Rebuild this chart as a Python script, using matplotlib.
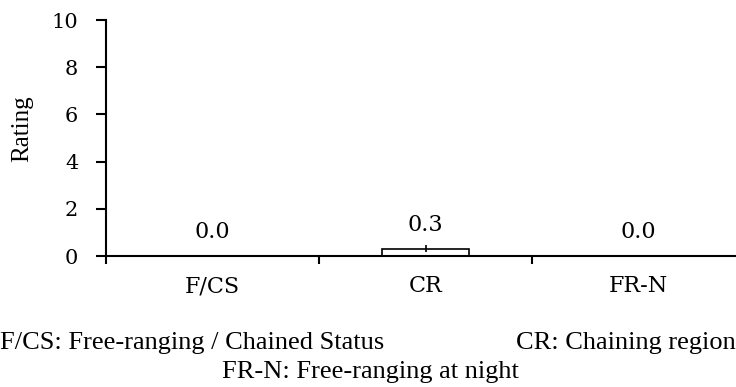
import matplotlib.pyplot as plt
import numpy as np

categorias = ["F/CS", "CR", "FR-N"]
valores = [0.0, 0.3, 0.0]
errores = [0.0, 0.15, 0.0]
notas1 = "F/CS: Free-ranging / Chained Status"
notas2 = "CR: Chaining region"
notas3 = "FR-N: Free-ranging at night"

W, H = 736, 387
fig = plt.figure(figsize=(W / 100, H / 100), dpi=100)
# axes a mano en pixeles
ax = fig.add_axes([106 / W, 131 / H, (745 - 106) / W, (367 - 131) / H])

x = np.arange(len(categorias))
ax.bar(x, valores, 0.41, color="white", edgecolor="black", linewidth=1.2)
ax.errorbar(x[1:2], valores[1:2], yerr=errores[1:2], fmt="none", ecolor="black",
            elinewidth=1.2, capsize=0)

tick_font = {"family": "DejaVu Serif", "size": 16}
for xi, v in zip(x, valores):
    ax.annotate("%.1f" % v, (xi, v), xytext=(0, 9), textcoords="offset points",
                ha="center", va="bottom", **tick_font)

ax.set_xlim(-0.5, 2.5)
ax.set_ylim(0, 10)
ax.set_yticks([0, 2, 4, 6, 8, 10])
ax.set_xticks(x)
ax.set_xticklabels(categorias, fontdict=tick_font)
ax.set_xticks([-0.5, 0.5, 1.5, 2.5], minor=True)
ax.tick_params(axis="x", which="major", length=0, pad=14)
ax.tick_params(axis="x", which="minor", length=6, width=1.5, direction="out")
ax.tick_params(axis="y", length=7, width=1.5, direction="out", pad=13,
               labelsize=15, labelfontfamily="DejaVu Serif")

ax.spines["top"].set_visible(False)
ax.spines["right"].set_visible(False)
ax.spines["left"].set_linewidth(1.5)
ax.spines["bottom"].set_linewidth(1.5)
ax.set_ylabel("Rating", family="Liberation Serif", fontsize=18)
ax.yaxis.set_label_coords(-0.114, 0.54)

fig.text(0 / W, 1 - 343 / H, notas1, family="Liberation Serif", fontsize=19,
         ha="left", va="center")
fig.text(736 / W, 1 - 343 / H, notas2, family="Liberation Serif", fontsize=19,
         ha="right", va="center")
fig.text(370 / W, 1 - 372 / H, notas3, family="Liberation Serif", fontsize=19,
         ha="center", va="center")

fig.savefig("out.png", dpi=100)
